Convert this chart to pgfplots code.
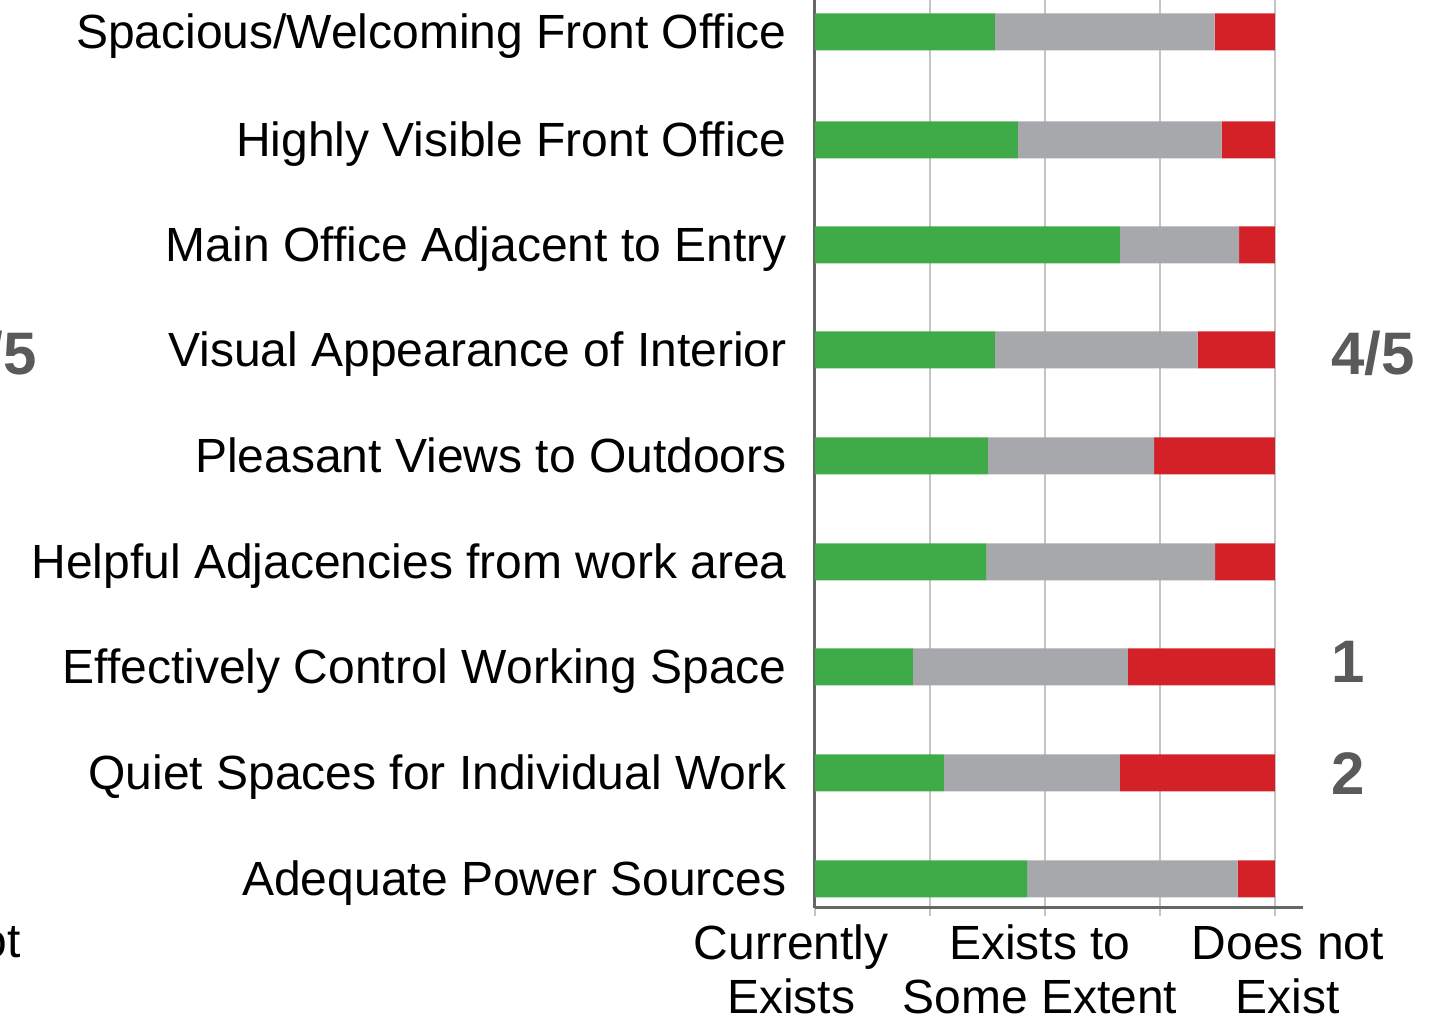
\documentclass[border=0pt]{standalone}
\usepackage{fontspec}
\setmainfont{Liberation Sans}
\usepackage{pgfplots}
\pgfplotsset{compat=1.18}
\definecolor{cgreen}{HTML}{3FAA48}
\definecolor{cgray}{HTML}{A7A8AB}
\definecolor{cred}{HTML}{D42128}
\definecolor{cnum}{HTML}{5A5A5A}
\definecolor{cax}{HTML}{666666}
\definecolor{cgrid}{HTML}{C4C4C4}
\newcommand{\lblfont}{\fontsize{24}{28.5}\selectfont}
\newcommand{\numfont}{\fontsize{30}{32}\selectfont\bfseries}
\begin{document}
\begin{tikzpicture}
\path[use as bounding box] (-407.5pt,-56pt) rectangle (313.5pt,454pt);
\clip (-407.5pt,-56pt) rectangle (313.5pt,454pt);
\begin{axis}[
  at={(0,0)}, anchor=south west,
  x=2.3pt, y=0.5pt,
  xmin=0, xmax=106.1, ymin=0, ymax=940,
  xbar stacked, bar width=18.5pt,
  axis x line*=bottom, axis y line*=left,
  axis line style={-, draw=cax, line width=1.5pt},
  xtick={0,25,50,75,100}, xticklabels={},
  xmajorgrids, grid style={draw=cgrid, line width=0.75pt},
  xtick style={draw=cgrid, line width=0.75pt},
  tick align=outside, major tick length=4pt,
  ytick={876,768,663,558,452,346,241,135,29},
  yticklabels={Spacious/Welcoming Front Office, Highly Visible Front Office, Main Office Adjacent to Entry, Visual Appearance of Interior, Pleasant Views to Outdoors, Helpful Adjacencies from work area, Effectively Control Working Space, Quiet Spaces for Individual Work, Adequate Power Sources},
  ytick style={draw=none},
  yticklabel style={font=\lblfont, inner sep=0pt, anchor=base east, xshift=-10pt, yshift=-8.5pt},
  clip=false,
]
\addplot[fill=cgreen, draw=none] coordinates {(39.1,876) (44.1,768) (66.3,663) (39.1,558) (37.6,452) (37.2,346) (21.3,241) (28.0,135) (46.1,29)};
\addplot[fill=cgray, draw=none] coordinates {(47.8,876) (44.3,768) (25.9,663) (44.1,558) (36.1,452) (49.8,346) (46.7,241) (38.3,135) (45.8,29)};
\addplot[fill=cred, draw=none] coordinates {(13.1,876) (11.6,768) (7.8,663) (16.8,558) (26.3,452) (13.0,346) (32.0,241) (33.7,135) (8.1,29)};
\node[font=\lblfont, anchor=base, inner sep=0pt] at (axis cs:-5.2,0) [yshift=-26pt] {Currently};
\node[font=\lblfont, anchor=base, inner sep=0pt, text depth=0pt] at (axis cs:-5.2,0) [yshift=-53pt] {Exists};
\node[font=\lblfont, anchor=base, inner sep=0pt] at (axis cs:48.9,0) [yshift=-26pt] {Exists to};
\node[font=\lblfont, anchor=base, inner sep=0pt, text depth=0pt] at (axis cs:48.9,0) [yshift=-53pt] {Some Extent};
\node[font=\lblfont, anchor=base, inner sep=0pt] at (axis cs:102.8,0) [yshift=-26pt] {Does not};
\node[font=\lblfont, anchor=base, inner sep=0pt, text depth=0pt] at (axis cs:102.8,0) [yshift=-53pt] {Exist};
\end{axis}
\node[font=\numfont, text=cnum, anchor=base west, inner sep=0pt] at (258pt,266.5pt) {4/5};
\node[font=\numfont, text=cnum, anchor=base west, inner sep=0pt] at (258pt,112.5pt) {1};
\node[font=\numfont, text=cnum, anchor=base west, inner sep=0pt] at (258pt,56.5pt) {2};
\node[font=\numfont, text=cnum, anchor=base east, inner sep=0pt] at (-389pt,266.5pt) {4/5};
\node[font=\lblfont, anchor=base east, inner sep=0pt] at (-397pt,-25pt) {Does not};
\end{tikzpicture}
\end{document}
